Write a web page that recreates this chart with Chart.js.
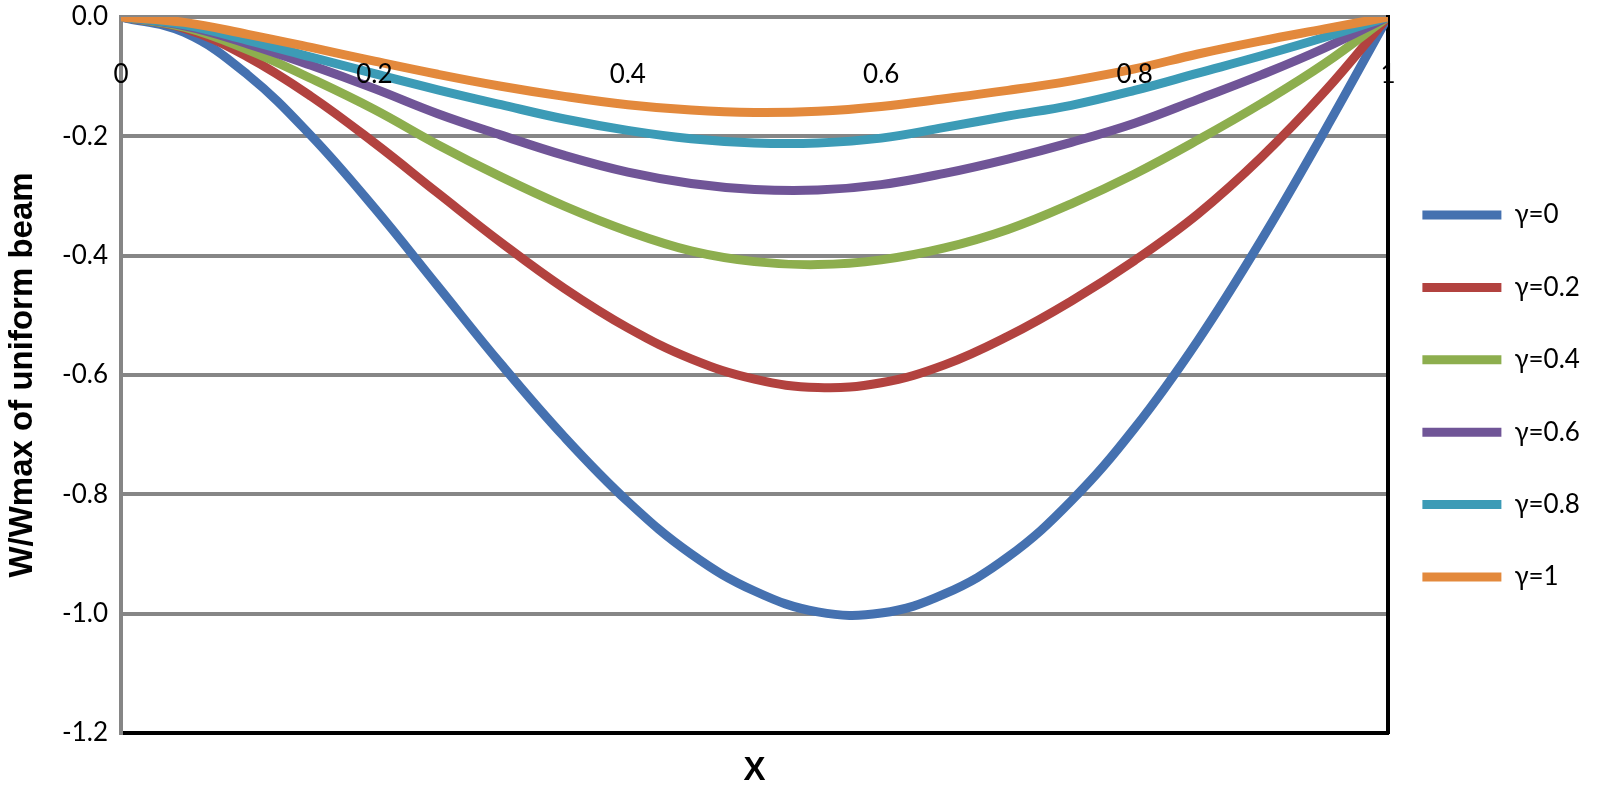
<!DOCTYPE html>
<html>
<head>
<meta charset="utf-8">
<script src="https://cdn.jsdelivr.net/npm/chart.js@4"></script>
<style>
  html, body { margin: 0; padding: 0; background: #fff; }
  #wrap { width: 1600px; height: 785px; position: relative; }
</style>
</head>
<body>
<div id="wrap"><canvas id="beam"></canvas></div>
<script>
// ── DATA ──────────────────────────────────────────────────────────────
const xVals = [0, 0.05, 0.1, 0.15, 0.2, 0.25, 0.3, 0.35, 0.4, 0.45, 0.5,
               0.55, 0.6, 0.65, 0.7, 0.75, 0.8, 0.85, 0.9, 0.95, 1];

const gamma0  = [0, -0.026, -0.097, -0.199, -0.320, -0.451, -0.582, -0.704, -0.812, -0.900, -0.962,
                 -0.997, -0.999, -0.967, -0.905, -0.811, -0.689, -0.542, -0.374, -0.191, 0];
const gamma02 = [0, -0.019, -0.067, -0.133, -0.211, -0.295, -0.378, -0.455, -0.521, -0.573, -0.607,
                 -0.621, -0.613, -0.583, -0.535, -0.476, -0.408, -0.330, -0.235, -0.125, 0];
const gamma04 = [0, -0.017, -0.055, -0.103, -0.155, -0.214, -0.268, -0.317, -0.359, -0.392, -0.410,
                 -0.415, -0.407, -0.387, -0.356, -0.313, -0.263, -0.206, -0.145, -0.078, 0];
const gamma06 = [0, -0.015, -0.045, -0.081, -0.120, -0.162, -0.198, -0.232, -0.260, -0.279, -0.289,
                 -0.290, -0.281, -0.262, -0.238, -0.210, -0.178, -0.138, -0.097, -0.052, 0];
const gamma08 = [0, -0.013, -0.039, -0.067, -0.095, -0.122, -0.147, -0.171, -0.190, -0.204, -0.211,
                 -0.211, -0.203, -0.185, -0.166, -0.148, -0.123, -0.094, -0.065, -0.034, 0];
const gamma1  = [0, -0.009, -0.029, -0.051, -0.074, -0.096, -0.116, -0.133, -0.147, -0.156, -0.160,
                 -0.158, -0.150, -0.137, -0.123, -0.107, -0.087, -0.062, -0.040, -0.020, 0];

const seriesNames  = ['γ=0', 'γ=0.2', 'γ=0.4', 'γ=0.6', 'γ=0.8', 'γ=1'];
const seriesValues = [gamma0, gamma02, gamma04, gamma06, gamma08, gamma1];
const seriesColors = ['#4571B0', '#B2423F', '#8DAE4E', '#705597', '#3C9BB6', '#E3893C'];

const yTitle = 'W/Wmax of uniform beam';
const xTitle = 'X';

// ── STYLE ─────────────────────────────────────────────────────────────
const GRID = '#868686';
const TICK_FONT = { family: 'Lato', size: 26 };
const TITLE_FONT = { family: 'Liberation Sans', size: 33, weight: 'bold', lineHeight: 1 };

// legend sits a bit closer to the plot than Chart.js puts it
const legendNudge = {
  id: 'legendNudge',
  afterLayout(chart) {
    const lg = chart.legend;
    if (!lg) return;
    lg.left -= 12;
    lg.right -= 12;
  }
};

const datasets = seriesNames.map((name, i) => ({
  label: name,
  data: xVals.map((x, j) => ({ x, y: seriesValues[i][j] })),
  borderColor: seriesColors[i],
  backgroundColor: seriesColors[i],
  borderWidth: 9,
  borderCapStyle: 'round',
  borderJoinStyle: 'round',
  pointRadius: 0,
  pointHoverRadius: 0,
  tension: 0.4,
  fill: false,
  order: seriesNames.length - i   // last series drawn on top, like Excel
}));

new Chart(document.getElementById('beam'), {
  type: 'line',
  data: { datasets },
  options: {
    responsive: true,
    maintainAspectRatio: false,
    animation: false,
    layout: { padding: { top: 17, right: 0, bottom: 10, left: 0 } },
    plugins: {
      tooltip: { enabled: false },
      legend: {
        position: 'right',
        maxWidth: 212,
        labels: {
          usePointStyle: true,
          pointStyle: 'line',
          pointStyleWidth: 79,
          padding: 46.4,
          color: '#000',
          font: TICK_FONT,
          sort: (a, b) => a.datasetIndex - b.datasetIndex
        }
      }
    },
    scales: {
      x: {
        type: 'linear',
        position: { y: 0 },
        min: 0, max: 1,
        ticks: { stepSize: 0.2, color: '#000', font: TICK_FONT, padding: 42, maxRotation: 0, z: 2,
                 callback: v => String(Math.round(v * 10) / 10) },
        grid: { display: false, drawTicks: false },
        border: { display: false }
      },
      xBottom: {
        type: 'linear',
        position: 'bottom',
        min: 0, max: 1,
        ticks: { display: false },
        grid: { display: false, drawTicks: false },
        border: { display: true, color: '#000', width: 4 },
        title: { display: true, text: xTitle, color: '#000', font: TITLE_FONT, padding: { top: 0, bottom: -12 } },
        afterFit: s => { s.height = 42; }
      },
      y: {
        type: 'linear',
        position: 'left',
        min: -1.2, max: 0,
        ticks: { stepSize: 0.2, color: '#000', font: TICK_FONT, padding: 0,
                 callback: v => (Math.abs(v) < 1e-9 ? 0 : v).toFixed(1) },
        grid: { color: GRID, lineWidth: 4, drawTicks: true, tickLength: 13, tickColor: 'rgba(0,0,0,0)' },
        border: { display: true, color: GRID, width: 4 },
        title: { display: true, text: yTitle, color: '#000', font: TITLE_FONT, padding: { top: 6, bottom: 0 } },
        afterFit: s => { s.width = 121; }
      },
      yRight: {
        type: 'linear',
        position: 'right',
        min: -1.2, max: 0,
        ticks: { display: false },
        grid: { display: false, drawTicks: false },
        border: { display: true, color: '#000', width: 4 },
        afterFit: s => { s.width = 0; }
      }
    }
  },
  plugins: [legendNudge]
});
</script>
</body>
</html>
